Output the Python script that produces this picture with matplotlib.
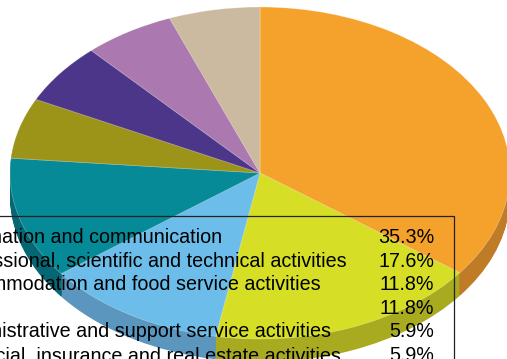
import matplotlib
matplotlib.use("Agg")
import matplotlib.pyplot as plt
from matplotlib.patches import Rectangle

plt.rcParams["font.family"] = ["Liberation Sans", "DejaVu Sans"]

labels = [
    "Information and communication",
    "Professional, scientific and technical activities",
    "Accommodation and food service activities",
    "",
    "Administrative and support service activities",
    "Financial, insurance and real estate activities",
]
pct_labels = ["35.3%", "17.6%", "11.8%", "11.8%", "5.9%", "5.9%"]
shares = [35.3, 17.6, 11.8, 11.8, 5.9, 5.9, 5.9, 5.9]
top_colors = ["#F5A22D", "#D6DF26", "#6CBDE9", "#068A97", "#9C9319", "#4B3689", "#AB78B0", "#CBB9A0"]
side_colors = ["#BF7B25", "#A8AB1F", "#5A96BE", "#056773", "#756E13", "#382866", "#805A84", "#988A78"]

W, H = 507, 359
cx, cy, rx, ry = 260, 173, 250, 166
depth = 23

fig = plt.figure(figsize=(W / 100, H / 100), dpi=100)

# pie axes fills the figure, one data unit = one radius
ax = fig.add_axes([0, 0, 1, 1])
for d in range(depth, 0, -1):
    ax.pie(shares, colors=side_colors, startangle=90, counterclock=False,
           center=(0, -d / ry), wedgeprops={"linewidth": 0})
ax.pie(shares, colors=top_colors, startangle=90, counterclock=False,
       wedgeprops={"linewidth": 0.5, "edgecolor": (1, 1, 1, 0.35)})
ax.set_aspect("auto")
ax.set_xlim(-cx / rx, (W - cx) / rx)
ax.set_ylim(-(H - cy) / ry, cy / ry)
ax.axis("off")

# overlay in pixel coordinates for the table
ov = fig.add_axes([0, 0, 1, 1])
ov.set_xlim(0, W)
ov.set_ylim(H, 0)
ov.axis("off")
ov.patch.set_alpha(0)
ov.add_patch(Rectangle((-20, 216), 474, 170, fill=False, edgecolor="#222222", linewidth=0.9))

y = 243
for name, pct in zip(labels, pct_labels):
    ov.text(-54, y, name, fontsize=14.2, color="black", ha="left", va="baseline")
    ov.text(434, y, pct, fontsize=14.2, color="black", ha="right", va="baseline")
    y += 23.6

fig.savefig("out.png", dpi=100)
